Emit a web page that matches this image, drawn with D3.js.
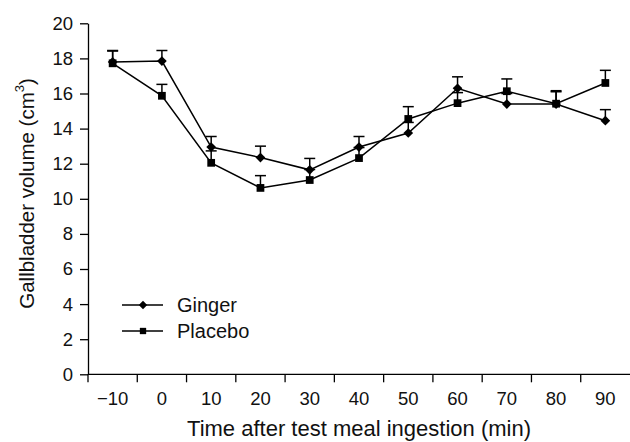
<!DOCTYPE html>
<html>
<head>
<meta charset="utf-8">
<script src="https://cdn.jsdelivr.net/npm/d3@7"></script>
<style>
  body { margin: 0; background: #fff; }
  svg { display: block; font-family: "Liberation Sans", Arial, sans-serif; }
</style>
</head>
<body>
<svg width="630" height="442"></svg>
<script>
// data
var times = ["-10", "0", "10", "20", "30", "40", "50", "60", "70", "80", "90"];
var tickLabels = ["\u221210", "0", "10", "20", "30", "40", "50", "60", "70", "80", "90"];
var gingerMean = [17.8, 17.85, 12.95, 12.35, 11.65, 12.95, 13.75, 16.3, 15.4, 15.4, 14.45];
var gingerErr  = [0.65, 0.6, 0.6, 0.65, 0.65, 0.6, 0.6, 0.65, 0.6, 0.7, 0.63];
var placeboMean = [17.72, 15.87, 12.05, 10.62, 11.07, 12.32, 14.55, 15.45, 16.13, 15.42, 16.6];
var placeboErr  = [0.7, 0.65, 0.68, 0.7, 0.6, 0.6, 0.7, 0.6, 0.7, 0.74, 0.72];
var yTicks = [0, 2, 4, 6, 8, 10, 12, 14, 16, 18, 20];

var svg = d3.select("svg");
var mLeft = 88, mRight = 630, mTop = 23.3, mBottom = 374.3;

var x = d3.scaleBand().domain(times).range([mLeft, mRight]);
var y = d3.scaleLinear().domain([0, 20]).range([mBottom, mTop]);

// y axis
var yAxis = svg.append("g")
  .attr("transform", "translate(" + mLeft + ",0)")
  .call(d3.axisLeft(y).tickValues(yTicks).tickSize(8).tickPadding(7).tickSizeOuter(0));
yAxis.select(".domain").attr("stroke", "#000").attr("stroke-width", 1.3);
yAxis.selectAll(".tick line").attr("stroke-width", 1.3);
yAxis.selectAll("text").attr("font-size", 18.5).attr("fill", "#111")
  .attr("font-family", "Liberation Sans, Arial, sans-serif");

// x axis: ticks on band boundaries, labels at centres
var xg = svg.append("g").attr("transform", "translate(0," + mBottom + ")");
xg.append("line").attr("x1", mLeft).attr("x2", mRight).attr("stroke", "#000").attr("stroke-width", 1.3);
xg.selectAll("line.tk")
  .data(times)
  .enter().append("line")
  .attr("class", "tk")
  .attr("x1", function(d) { return x(d); })
  .attr("x2", function(d) { return x(d); })
  .attr("y1", 0).attr("y2", 8)
  .attr("stroke", "#000").attr("stroke-width", 1.3);
xg.selectAll("text")
  .data(times)
  .enter().append("text")
  .attr("x", function(d) { return x(d) + x.bandwidth() / 2; })
  .attr("y", 31)
  .attr("text-anchor", "middle")
  .attr("font-size", 18.5)
  .attr("fill", "#111")
  .text(function(d, i) { return tickLabels[i]; });

// axis titles
svg.append("text")
  .attr("x", (mLeft + mRight) / 2).attr("y", 436)
  .attr("text-anchor", "middle").attr("font-size", 22).attr("fill", "#111")
  .text("Time after test meal ingestion (min)");

var yt = svg.append("text")
  .attr("transform", "translate(34,193.5) rotate(-90)")
  .attr("text-anchor", "middle").attr("font-size", 20.5).attr("fill", "#111");
yt.append("tspan").text("Gallbladder volume (cm");
yt.append("tspan").attr("font-size", 13).attr("dy", -10).text("3");
yt.append("tspan").attr("dy", 10).text(")");

function cx(i) { return x(times[i]) + x.bandwidth() / 2; }

var diamond = d3.symbol().type(d3.symbolDiamond2).size(60);
var square = d3.symbol().type(d3.symbolSquare).size(60);

function drawSeries(mean, err, sym) {
  var g = svg.append("g");
  // error bars (upper only)
  g.selectAll("line.eb")
    .data(mean)
    .enter().append("line")
    .attr("x1", function(d, i) { return cx(i); })
    .attr("x2", function(d, i) { return cx(i); })
    .attr("y1", function(d) { return y(d); })
    .attr("y2", function(d, i) { return y(d + err[i]); })
    .attr("stroke", "#000").attr("stroke-width", 1.5);
  g.selectAll("line.cap")
    .data(mean)
    .enter().append("line")
    .attr("x1", function(d, i) { return cx(i) - 5.5; })
    .attr("x2", function(d, i) { return cx(i) + 5.5; })
    .attr("y1", function(d, i) { return y(d + err[i]); })
    .attr("y2", function(d, i) { return y(d + err[i]); })
    .attr("stroke", "#000").attr("stroke-width", 1.5);
  g.append("path")
    .datum(mean)
    .attr("fill", "none").attr("stroke", "#000").attr("stroke-width", 1.5)
    .attr("d", d3.line().x(function(d, i) { return cx(i); }).y(function(d) { return y(d); }));
  g.selectAll("path.pt")
    .data(mean)
    .enter().append("path")
    .attr("class", "pt")
    .attr("transform", function(d, i) { return "translate(" + cx(i) + "," + y(d) + ")"; })
    .attr("d", sym)
    .attr("fill", "#000");
}

drawSeries(placeboMean, placeboErr, square);
drawSeries(gingerMean, gingerErr, diamond);

// legend
var legend = [{ name: "Ginger", sym: diamond, y: 305 }, { name: "Placebo", sym: square, y: 331 }];
var lg = svg.append("g");
legend.forEach(function(l) {
  lg.append("line").attr("x1", 122).attr("x2", 163).attr("y1", l.y).attr("y2", l.y)
    .attr("stroke", "#000").attr("stroke-width", 1.5);
  lg.append("path").attr("transform", "translate(143," + l.y + ")")
    .attr("d", l.sym.size(l.name === "Ginger" ? 45 : 40)()).attr("fill", "#000");
  lg.append("text").attr("x", 177).attr("y", l.y + 7).attr("font-size", 20).attr("fill", "#111").text(l.name);
});
</script>
</body>
</html>
